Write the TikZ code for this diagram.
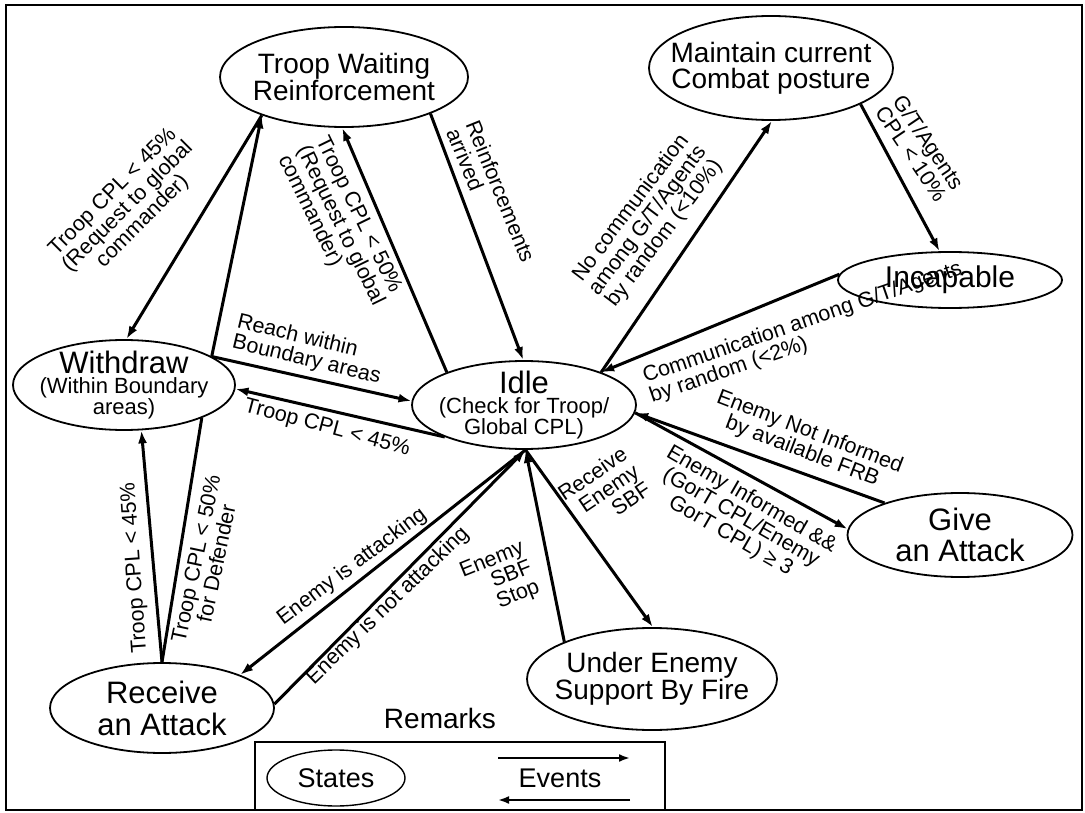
\documentclass[tikz,border=0pt]{standalone}
\usepackage{fontspec}
\setmainfont{Liberation Sans}
\usetikzlibrary{arrows.meta,shapes.geometric}

\begin{document}
\begin{tikzpicture}[x=1pt,y=-1pt,
  state/.style={ellipse, draw, line width=1.8pt, inner xsep=-40pt, inner ysep=-20pt, align=center},
  ev/.style={line width=3pt, -{Latex[length=13pt,width=9pt]}},
  plain/.style={line width=3pt},
  lbl/.style={font=\fontsize{21.5}{21}\selectfont, inner sep=0pt, align=center},
  lbll/.style={lbl, align=left},
  lblr/.style={lbl, align=right}]

\useasboundingbox (0,0) rectangle (1085,813);
\draw[line width=1.6pt] (6,5) rectangle (1082,810);

% states
\node[state, minimum width=248pt, minimum height=100pt, font=\fontsize{28}{27}\selectfont] (twr) at (344,77) {Troop Waiting\\Reinforcement};
\node[state, minimum width=244pt, minimum height=104pt, font=\fontsize{28}{26}\selectfont] (mcp) at (771,68) {Maintain current\\Combat posture};
\node[state, minimum width=224pt, minimum height=56pt, font=\fontsize{30}{30}\selectfont] (inc) at (950,280) {Incapable};
\node[state, minimum width=222pt, minimum height=90pt, font=\fontsize{22}{20}\selectfont] (wd) at (124,385)
  {{\fontsize{31}{26}\selectfont Withdraw}\\(Within Boundary\\areas)};
\node[state, minimum width=224pt, minimum height=88pt, font=\fontsize{22}{20}\selectfont] (idle) at (524,405)
  {{\fontsize{31}{26}\selectfont Idle}\\(Check for Troop/\\Global CPL)};
\node[state, minimum width=225pt, minimum height=84pt, font=\fontsize{31}{31}\selectfont] (give) at (960,535) {Give\\an Attack};
\node[state, minimum width=224pt, minimum height=90pt, font=\fontsize{31}{32}\selectfont] (recv) at (162,708) {Receive\\an Attack};
\node[state, minimum width=250pt, minimum height=102pt, font=\fontsize{28}{27}\selectfont] (uesf) at (652,679) {Under Enemy\\Support By Fire};

% transitions
\draw[ev] (twr.205) -- (wd.87);
\draw[ev] (wd.18) -- (twr.205);
\draw[ev] (wd.18) -- (idle.178);
\draw[ev] (idle.202) -- (wd.-2);
\draw[ev] (idle.157) -- (twr.268);
\draw[ev] (twr.337) -- (idle.91);
\draw[ev] (idle.23) -- (mcp.271);
\draw[ev] (mcp.338) -- (inc.110);
\draw[ev] (inc.177) -- (idle.23);
\draw[ev] (give.157) -- (idle.356);
\draw[ev] (idle.356) -- (give.177);
\draw[ev] (idle.272) -- (recv.23);
\draw[ev] (recv.2) -- (idle.272);
\draw[ev] (uesf.157) -- (idle.272);
\draw[ev] (idle.272) -- (uesf.89);
\draw[ev] (recv.90) -- (wd.291);
\draw[plain] (wd.337) -- (recv.90);

% event labels
\node[lbl, rotate=45] (l1) at (128,207) {Troop CPL < 45\%\\(Request to global\\commander)};
\node[lbll, rotate=-64] (l2) at (340,226) {Troop CPL < 50\%\\(Request to global\\commander)};
\node[lbll, rotate=-68] (l3) at (491,195) {Reinforcements\\arrived};
\node[lbl, rotate=53] (l4) at (648,221) {No communication\\among G/T/Agents\\by random (<10\%)};
\node[lbl, rotate=-56] (l5) at (920,148) {G/T/Agents\\CPL < 10\%};
\node[lbll, rotate=19] (l6) at (806,333) {Communication among G/T/Agents\\by random (<2\%)};
\node[lbll, rotate=-13.5] (l7) at (309,350) {Reach within\\Boundary areas};
\node[lbl, rotate=-15] (l8) at (327,428) {Troop CPL < 45\%};
\node[lbl, rotate=94] (l9) at (135,568) {Troop CPL < 45\%};
\node[lbl, rotate=78] (l10) at (206,561) {Troop CPL < 50\%\\for Defender};
\node[lbl, rotate=37] (l11) at (352,567) {Enemy is attacking};
\node[lbl, rotate=44] (l12) at (388,606) {Enemy is not attacking};
\node[lblr, rotate=22] (l13) at (500,580) {Enemy\\SBF\\Stop};
\node[lblr, rotate=34] (l14) at (604,491) {Receive\\Enemy\\SBF};
\node[lbl, rotate=-21] (l15) at (806,442) {Enemy Not Informed\\by available FRB};
\node[lbl, rotate=-30] (l16) at (741,518) {Enemy Informed \&\&\\(GorT CPL/Enemy\\GorT CPL) ≥ 3};

% legend
\node[font=\fontsize{28}{28}\selectfont, inner sep=0pt] (rem) at (440,718) {Remarks};
\draw[line width=1.2pt] (255,742) rectangle (665,810);
\node[state, line width=1.4pt, minimum width=138pt, minimum height=56pt, font=\fontsize{27}{27}\selectfont] (lst) at (336,778) {States};
\node[font=\fontsize{27}{27}\selectfont, inner sep=0pt] (lev) at (560,778) {Events};
\coordinate (e1a) at (498,758);
\coordinate (e1b) at (630,758);
\coordinate (e2a) at (630,800);
\coordinate (e2b) at (498,800);
\draw[line width=2.2pt, -{Latex[length=11pt,width=8pt]}] (e1a) -- (e1b);
\draw[line width=2.2pt, -{Latex[length=11pt,width=8pt]}] (e2a) -- (e2b);
\end{tikzpicture}
\end{document}
